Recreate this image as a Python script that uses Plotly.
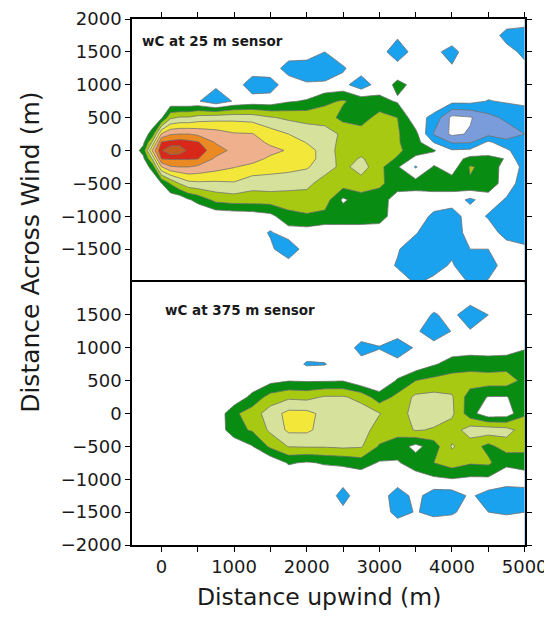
import plotly.graph_objects as go

# ---------------- data ----------------
# Upper panel (25 m sensor): grid nodes (m) and relative wC flux level at each node
X_TOP = [-500, -375, -250, -125, 0, 125, 250, 375, 500, 750, 1000, 1250, 1500, 1750,
         2000, 2250, 2500, 2750, 3000, 3250, 3500, 3750, 4000, 4250, 4500, 4750, 5000]
Y_TOP = [2000, 1750, 1500, 1250, 1000, 750, 500, 250, 125, 0, -125, -250, -500,
         -750, -1000, -1250, -1500, -1750, -2000]
Z_TOP = [
    [0, 0, 0, 0, 0, 0, 0, 0, 0, 0, 0, 0, 0, 0, 0, 0, 0, 0, 0, 0, 0, 0, 0, 0, 0, 0, 0],
    [0, 0, 0, 0, 0, 0, 0, 0, 0, 0, 0, 0, 0, 0, 0, 0, 0, 0, 0, -0.3, 0, 0, 0, 0, 0, -0.8, -1.0],
    [0, 0, 0, 0, 0, 0, 0, 0, 0, 0, 0, 0, 0, 0, 0, -0.5, 0, 0, 0, -1.2, 0, -0.3, -0.8, 0, 0, -0.2, -0.7],
    [0, 0, 0, 0, 0, 0, 0, 0, 0, 0, 0, 0, 0, -0.9, -1.0, -1.2, -0.6, 0, 0, 0, 0, 0, -0.4, 0, 0, 0, -0.3],
    [0, 0, 0, 0, 0, 0, 0, 0, 0, -0.3, 0, -1.0, -0.9, 0, -0.4, -0.3, -0.2, -1.1, 0, 0.7, 0.3, 0, 0, 0, 0, 0, 0],
    [0, 0, 0, 0, 0, -0.3, -0.45, -0.45, -0.4, -1.2, -0.4, -0.1, -0.1, 0.4, 0.6, 1.3, 1.6, 1.1, 0.8, 0.4, 0.45, 0, -0.2, -0.2, -0.55, -0.4, -0.3],
    [0, 0, 0, -0.3, 0.3, 2.3, 2.6, 2.6, 2.9, 3.1, 3.2, 3.1, 2.6, 2.3, 2.2, 2.0, 1.2, 1.0, 1.9, 1.5, -0.2, -0.7, -2.8, -2.6, -1.8, -1.3, -1.0],
    [0, 0, 0, 0.9, 4.6, 5.4, 5.5, 5.5, 5.3, 5.0, 4.6, 4.55, 4.0, 3.5, 3.0, 3.0, 2.3, 2.0, 2.0, 1.6, 0.8, -1.6, -2.7, -2.4, -1.8, -2.0, -1.5],
    [0, 0, 0.25, 2.6, 6.6, 6.8, 7.0, 6.8, 6.6, 5.4, 5.0, 4.9, 4.3, 4.0, 3.45, 3.0, 2.2, 2.1, 2.0, 1.6, 0.9, -0.55, -1.6, -1.6, -0.3, -1.2, -1.2],
    [0, 0, 0.9, 4.6, 7.4, 8.4, 8.2, 7.2, 7.0, 6.0, 5.2, 5.0, 4.8, 4.4, 3.9, 3.1, 2.0, 2.2, 2.1, 1.7, 1.0, 0.6, -0.4, -0.3, -0.3, -0.3, -1.3],
    [0, 0, 0.25, 2.6, 6.55, 6.6, 6.6, 6.6, 6.55, 5.3, 5.0, 4.9, 4.3, 4.0, 3.9, 3.1, 2.1, 2.6, 2.0, 1.4, 0.2, 0, 0, 0.8, 1.0, 0.4, -1.5],
    [0, 0, 0, 0.8, 4.45, 5.4, 5.5, 5.5, 5.3, 4.9, 4.55, 4.2, 3.9, 3.8, 3.6, 3.0, 2.2, 3.0, 1.8, 0.6, -0.6, 0.6, 0, 1.6, 1.2, 0, -0.7],
    [0, 0, 0, -0.3, 0.45, 1.6, 2.55, 3.2, 3.3, 3.3, 3.4, 2.9, 3.0, 2.9, 2.8, 2.0, 2.0, 2.0, 1.7, 1.0, 0.9, 1.0, 1.0, 1.4, 1.1, 0, -1.0],
    [0, 0, 0, 0, 0, -0.3, -0.3, 0.4, 0.8, 1.8, 2.0, 2.0, 2.0, 2.0, 2.0, 2.0, 0.3, 1.1, 1.0, 0, 0, 0, 0, -0.7, 0, -0.6, -1.1],
    [0, 0, 0, 0, 0, 0, 0, 0, -0.45, -0.3, -0.2, -0.1, 0.2, 1.2, 1.4, 1.2, 1.2, 1.2, 0.9, 0, 0, -0.7, -1.0, 0, -0.6, -0.5, -0.9],
    [0, 0, 0, 0, 0, 0, 0, 0, 0, 0, 0, 0, -0.6, 0, 0, -0.2, -0.2, -0.2, 0, 0, -0.4, -1.3, -1.2, 0, 0, -0.9, -1.0],
    [0, 0, 0, 0, 0, 0, 0, 0, 0, 0, 0, 0, -0.3, -1.2, 0, 0, 0, 0, 0, -0.4, -1.2, -1.0, -0.7, -0.5, -0.5, 0, -0.3],
    [0, 0, 0, 0, 0, 0, 0, 0, 0, 0, 0, 0, 0, 0, 0, 0, 0, 0, 0, -0.6, -1.2, -0.8, -0.4, -1.2, -1.0, 0, 0],
    [0, 0, 0, 0, 0, 0, 0, 0, 0, 0, 0, 0, 0, 0, 0, 0, 0, 0, 0, 0, -0.6, -0.3, 0, -0.6, -0.4, 0, 0],
]

# Lower panel (375 m sensor)
X_BOT = [-500, -250, 0, 250, 500, 750, 1000, 1250, 1500, 1750, 2000, 2250, 2500,
         2750, 3000, 3250, 3500, 3750, 4000, 4250, 4500, 4750, 5000]
Y_BOT = [2000, 1750, 1500, 1250, 1000, 750, 500, 250, 0, -250, -500, -750, -1000,
         -1250, -1500, -1750, -2000]
Z_BOT = [
    [0, 0, 0, 0, 0, 0, 0, 0, 0, 0, 0, 0, 0, 0, 0, 0, 0, 0, 0, 0, 0, 0, 0],
    [0, 0, 0, 0, 0, 0, 0, 0, 0, 0, 0, 0, 0, 0, 0, 0, 0, 0, 0, 0, 0, 0, 0],
    [0, 0, 0, 0, 0, 0, 0, 0, 0, 0, 0, 0, 0, 0, 0, 0, 0, -0.6, -0.2, -1.2, -0.5, 0, 0],
    [0, 0, 0, 0, 0, 0, 0, 0, 0, 0, 0, 0, 0, 0, 0, -0.1, -0.3, -1.2, -0.45, -0.4, 0, 0, 0],
    [0, 0, 0, 0, 0, 0, 0, 0, 0, 0, 0, 0, 0, -0.8, -0.55, -1.0, -0.4, 0, 0, 0, 0, 0, 0.4],
    [0, 0, 0, 0, 0, 0, 0, 0, 0, 0, -0.6, -0.55, 0, -0.2, 0, -0.2, -0.2, 0.4, 0.9, 1.1, 1.0, 1.1, 1.2],
    [0, 0, 0, 0, 0, 0, 0, -0.3, 0.2, 0.45, 0.4, 0.4, 0.45, -0.3, -0.3, 0.6, 1.5, 1.8, 2.0, 2.0, 2.0, 2.0, 1.2],
    [0, 0, 0, 0, 0, 0, -0.3, 0.8, 1.9, 2.3, 2.2, 2.6, 2.6, 2.2, 0.9, 1.8, 2.7, 2.8, 2.6, 1.0, 0.45, 0.45, 1.0],
    [0, 0, 0, 0, 0, -0.3, 1.3, 2.0, 3.0, 3.8, 3.8, 3.2, 3.2, 3.0, 2.55, 2.0, 2.9, 3.0, 2.7, 0.9, -0.2, -0.1, 1.4],
    [0, 0, 0, 0, 0, -0.3, 1.2, 1.6, 2.7, 3.7, 3.7, 3.1, 3.1, 2.9, 2.1, 1.9, 2.6, 2.4, 2.0, 3.0, 3.1, 2.9, 2.0],
    [0, 0, 0, 0, 0, 0, -0.3, 0.45, 1.7, 2.55, 2.6, 2.6, 2.7, 2.6, 1.4, 1.0, 0.2, 1.0, 2.6, 2.0, 1.2, 2.0, 1.8],
    [0, 0, 0, 0, 0, 0, 0, -0.2, -0.3, 0.6, 0.4, 0.6, 0.7, 1.0, 0.4, 0.4, 1.0, 1.5, 2.0, 1.6, 1.7, 0.7, 1.0],
    [0, 0, 0, 0, 0, 0, 0, 0, 0, -0.2, -0.2, -0.2, -0.2, -0.2, 0, 0, 0, 0.3, 0.45, 0.3, 0.3, -0.1, -0.1],
    [0, 0, 0, 0, 0, 0, 0, 0, 0, 0, 0, 0, -0.8, 0, 0, -1.0, -0.2, -1.0, -1.0, -0.35, -0.9, -1.0, -0.9],
    [0, 0, 0, 0, 0, 0, 0, 0, 0, 0, 0, 0, -0.3, 0, 0, -0.8, -0.45, -0.7, -0.6, -0.2, -0.5, -0.6, -0.5],
    [0, 0, 0, 0, 0, 0, 0, 0, 0, 0, 0, 0, 0, 0, 0, 0, 0, 0, 0, 0, 0, 0, 0],
    [0, 0, 0, 0, 0, 0, 0, 0, 0, 0, 0, 0, 0, 0, 0, 0, 0, 0, 0, 0, 0, 0, 0],
]

# contour levels (-2.5 ... 7.5 step 1) and the fill colour of each band, lowest first
LEVEL_START = -2.5
LEVEL_END = 7.5
LEVEL_SIZE = 1.0
BAND_COLORS = ["#ffffff", "#7b9cdb", "#1aa2ef", "#ffffff", "#088c12", "#a7c912",
               "#d6e29c", "#f3e83a", "#eeb08d", "#eb8a22", "#d7281a", "#c45c1e"]

X_TICKS = [0, 500, 1000, 1500, 2000, 2500, 3000, 3500, 4000, 4500, 5000]
X_TICKTEXT = ["0", "", "1000", "", "2000", "", "3000", "", "4000", "", "5000"]
Y_TICKS_TOP = [2000, 1500, 1000, 500, 0, -500, -1000, -1500]
Y_TICKS_BOT = [1500, 1000, 500, 0, -500, -1000, -1500, -2000]

PANEL_LABELS = ["wC at 25 m sensor", "wC at 375 m sensor"]

# ---------------- figure ----------------
n = len(BAND_COLORS)
nc = n - 1
colorscale = []
for k, c in enumerate(BAND_COLORS):
    lo = max(0.0, (k - 0.5) / nc)
    hi = min(1.0, (k + 0.5) / nc)
    colorscale.append([lo, c])
    colorscale.append([hi, c])

FONT = "DejaVu Sans"


def contour(x, y, z, xa, ya):
    return go.Contour(
        x=x, y=y[::-1], z=z[::-1],
        xaxis=xa, yaxis=ya,
        autocontour=False,
        contours=dict(start=LEVEL_START, end=LEVEL_END, size=LEVEL_SIZE, coloring="fill"),
        colorscale=colorscale, showscale=False,
        line=dict(color="#707070", width=0.8, smoothing=0),
        hoverinfo="skip",
    )


fig = go.Figure()
fig.add_trace(contour(X_TOP, Y_TOP, Z_TOP, "x", "y"))
fig.add_trace(contour(X_BOT, Y_BOT, Z_BOT, "x2", "y2"))

axis_common = dict(showline=True, linecolor="black", linewidth=1.5, ticks="outside",
                   ticklen=5, tickwidth=1, tickcolor="black", showgrid=False,
                   zeroline=False, automargin=False, ticklabeloverflow="allow",
                   tickfont=dict(family=FONT, size=18, color="#1a1a1a"))

# the page body adds an 8 px offset, so the figure is 8 px smaller than the window
fig.update_layout(
    width=544, height=614,
    margin=dict(l=124, r=27, t=11, b=77, autoexpand=False),
    paper_bgcolor="white", plot_bgcolor="white",
    showlegend=False,
    xaxis=dict(axis_common, domain=[0, 1], anchor="y", range=[-405, 5005], side="top",
               tickvals=X_TICKS, showticklabels=False, mirror=True),
    yaxis=dict(axis_common, domain=[0.5, 1], anchor="x", range=[-2000, 2000],
               tickvals=Y_TICKS_TOP, mirror="ticks"),
    xaxis2=dict(axis_common, domain=[0, 1], anchor="y2", range=[-405, 5005],
                tickvals=X_TICKS, ticktext=X_TICKTEXT, mirror=True),
    yaxis2=dict(axis_common, domain=[0, 0.5], anchor="x2", range=[-2000, 2000],
                tickvals=Y_TICKS_BOT, mirror="ticks"),
    annotations=[
        dict(text="<b>" + PANEL_LABELS[0] + "</b>", x=-300, y=1665, xref="x", yref="y",
             xanchor="left", yanchor="middle", showarrow=False,
             font=dict(family=FONT, size=13.5, color="#1a1a1a")),
        dict(text="<b>" + PANEL_LABELS[1] + "</b>", x=20, y=1575, xref="x2", yref="y2",
             xanchor="left", yanchor="middle", showarrow=False,
             font=dict(family=FONT, size=13.5, color="#1a1a1a")),
        dict(text="Distance upwind (m)", x=0.476, y=-0.0985, xref="paper", yref="paper",
             xanchor="center", yanchor="middle", showarrow=False,
             font=dict(family=FONT, size=23.5, color="#1a1a1a")),
        dict(text="Distance Across Wind (m)", x=-0.26, y=0.557, xref="paper", yref="paper",
             xanchor="center", yanchor="middle", showarrow=False, textangle=-90,
             font=dict(family=FONT, size=25, color="#1a1a1a")),
    ],
)

fig.write_html("out.html")
